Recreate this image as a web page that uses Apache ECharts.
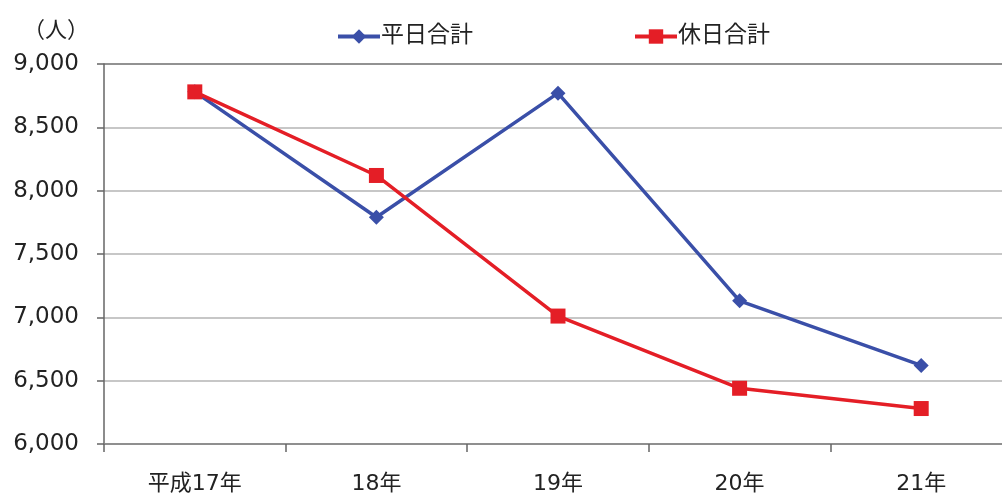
<!DOCTYPE html>
<html>
<head>
<meta charset="utf-8">
<script src="https://cdn.jsdelivr.net/npm/echarts@6/dist/echarts.min.js"></script>
<style>
  html, body { margin: 0; padding: 0; background: #fff; }
  #chart { width: 1002px; height: 495px; }
</style>
</head>
<body>
<div id="chart"></div>
<script>
// Yearly visitor totals (persons)
const categories = ['平成17年', '18年', '19年', '20年', '21年'];
const weekdayTotal = [8780, 7790, 8770, 7130, 6620];
const holidayTotal = [8780, 8120, 7010, 6440, 6280];
const yTicks = { min: 6000, max: 9000, interval: 500 };

const FONT = '"DejaVu Sans", "Noto Sans CJK JP", sans-serif';
const BLUE = '#3a4fa8';
const RED = '#e41e26';

const chart = echarts.init(document.getElementById('chart'), null, { renderer: 'canvas' });

chart.setOption({
  backgroundColor: '#ffffff',
  animation: false,
  textStyle: { fontFamily: FONT },
  graphic: [{
    type: 'text',
    left: 23,
    top: 20,
    style: { text: '（人）', fontSize: 22, fill: '#222', fontFamily: FONT }
  }],
  legend: {
    top: 20,
    left: 331,
    itemGap: 160,
    itemWidth: 42,
    itemHeight: 18,
    lineStyle: { width: 4 },
    textStyle: { fontSize: 23, color: '#222', fontFamily: FONT, padding: [0, 0, 0, -4] },
    data: ['平日合計', '休日合計']
  },
  grid: {
    left: 104, top: 64, bottom: 51, width: 908,
    containLabel: false,
    outerBoundsMode: 'none'
  },
  xAxis: {
    type: 'category',
    data: categories,
    boundaryGap: true,
    axisLine: { lineStyle: { color: '#888', width: 1.5 } },
    axisTick: { show: true, length: 8, lineStyle: { color: '#666', width: 1.5 } },
    axisLabel: { fontSize: 22, color: '#222', margin: 29, fontFamily: FONT }
  },
  yAxis: {
    type: 'value',
    min: yTicks.min,
    max: yTicks.max,
    interval: yTicks.interval,
    axisLine: { show: true, lineStyle: { color: '#666', width: 1.5 } },
    axisTick: { show: true, length: 7, lineStyle: { color: '#666', width: 1.5 } },
    axisLabel: {
      fontSize: 23, color: '#222', margin: 25, fontFamily: FONT,
      formatter: v => v.toLocaleString('en-US')
    },
    splitLine: {
      show: true,
      lineStyle: {
        color: ['#888', '#b4b4b4', '#b4b4b4', '#b4b4b4', '#b4b4b4', '#b4b4b4', '#6e6e6e'],
        width: 1.5
      }
    }
  },
  series: [
    {
      name: '平日合計',
      type: 'line',
      data: weekdayTotal,
      symbol: 'diamond',
      symbolSize: 15,
      color: BLUE,
      lineStyle: { width: 3.5, color: BLUE },
      itemStyle: { color: BLUE }
    },
    {
      name: '休日合計',
      type: 'line',
      data: holidayTotal,
      symbol: 'rect',
      symbolSize: 15,
      color: RED,
      lineStyle: { width: 3.5, color: RED },
      itemStyle: { color: RED }
    }
  ]
});
</script>
</body>
</html>
